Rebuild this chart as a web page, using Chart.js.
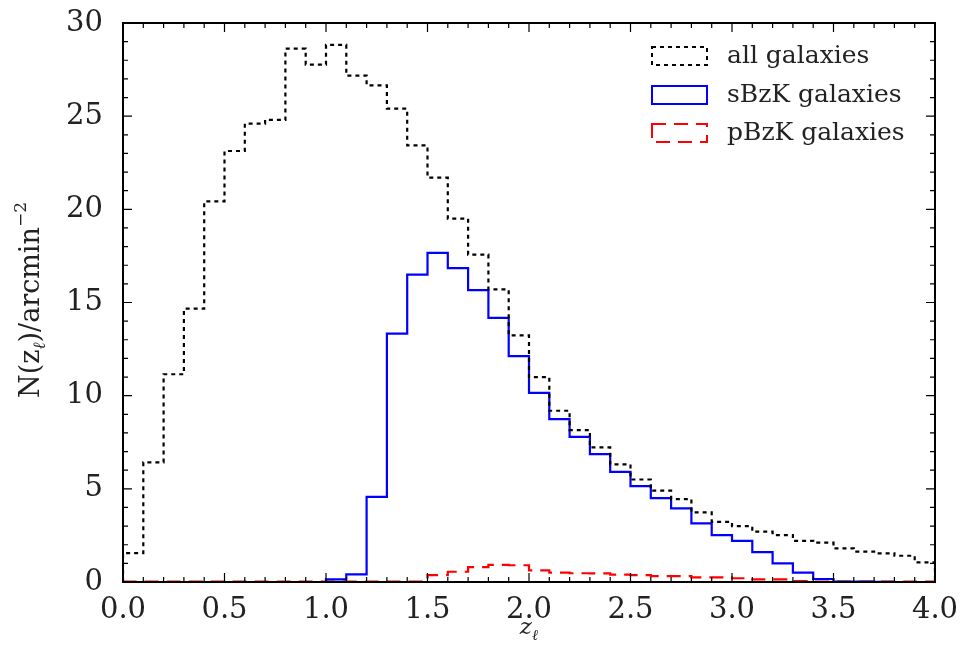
<!DOCTYPE html>
<html>
<head>
<meta charset="utf-8">
<script src="https://cdn.jsdelivr.net/npm/chart.js@4"></script>
<style>
  html, body { margin: 0; padding: 0; background: #fff; }
  #wrap { width: 961px; height: 655px; position: relative; }
</style>
</head>
<body>
<div id="wrap"><canvas id="histChart"></canvas></div>
<script>
// left edges of the 0.1-wide redshift bins
const binEdges = [0.0, 0.1, 0.2, 0.3, 0.4, 0.5, 0.6, 0.7, 0.8, 0.9,
  1.0, 1.1, 1.2, 1.3, 1.4, 1.5, 1.6, 1.7, 1.8, 1.9,
  2.0, 2.1, 2.2, 2.3, 2.4, 2.5, 2.6, 2.7, 2.8, 2.9,
  3.0, 3.1, 3.2, 3.3, 3.4, 3.5, 3.6, 3.7, 3.8, 3.9];
const lastEdge = 4.0;

const allGalaxies = [1.55, 6.42, 11.15, 14.67, 20.43, 23.13, 24.6, 24.8, 28.62, 27.77,
  28.83, 27.18, 26.65, 25.4, 23.43, 21.7, 19.5, 17.57, 15.7, 13.24,
  11.0, 9.19, 8.15, 7.22, 6.31, 5.5, 4.9, 4.45, 3.74, 3.23,
  3.0, 2.7, 2.52, 2.21, 2.11, 1.8, 1.63, 1.54, 1.41, 1.05];
const sBzK = [0, 0, 0, 0, 0, 0, 0, 0, 0, 0,
  0.14, 0.41, 4.57, 13.33, 16.5, 17.66, 16.85, 15.66, 14.17, 12.12,
  10.15, 8.74, 7.79, 6.86, 5.91, 5.15, 4.5, 3.95, 3.15, 2.52,
  2.21, 1.6, 1.0, 0.5, 0.16, 0.02, 0.02, 0.01, 0, 0];
const pBzK = [0.02, 0.02, 0.02, 0.02, 0.02, 0.02, 0.02, 0.02, 0.02, 0.02,
  0.02, 0.02, 0.02, 0.02, 0.02, 0.37, 0.55, 0.8, 0.92, 0.9,
  0.62, 0.5, 0.47, 0.46, 0.4, 0.37, 0.32, 0.32, 0.25, 0.25,
  0.2, 0.14, 0.14, 0.05, 0.02, 0.02, 0.02, 0.02, 0.02, 0.02];

const xTicks = [0, 0.5, 1.0, 1.5, 2.0, 2.5, 3.0, 3.5, 4.0];
const yTicks = [0, 5, 10, 15, 20, 25, 30];
const legendLabels = ['all galaxies', 'sBzK galaxies', 'pBzK galaxies'];

const FONT = '"DejaVu Serif", serif';

// step outline: start at baseline, one point per bin, drop back to baseline
function stepPoints(vals) {
  const pts = [{ x: binEdges[0], y: 0 }];
  vals.forEach((v, i) => pts.push({ x: binEdges[i], y: v }));
  pts.push({ x: lastEdge, y: 0 });
  return pts;
}

const datasets = [
  { label: legendLabels[0], data: stepPoints(allGalaxies), borderColor: '#000000', borderWidth: 2.2, borderDash: [4, 4] },
  { label: legendLabels[1], data: stepPoints(sBzK), borderColor: '#0000ff', borderWidth: 2.2, borderDash: [] },
  { label: legendLabels[2], data: stepPoints(pBzK), borderColor: '#ff0000', borderWidth: 2.2, borderDash: [14, 8] }
].map(d => Object.assign(d, { stepped: 'before', pointRadius: 0, fill: false, tension: 0, backgroundColor: 'transparent' }));

const framePlugin = {
  id: 'frame',
  afterDatasetsDraw(chart) {
    const { ctx, chartArea: a, scales: { x, y } } = chart;
    ctx.save();
    ctx.strokeStyle = '#000';
    ctx.lineWidth = 1.2;
    ctx.setLineDash([]);
    ctx.beginPath();
    // minor + major ticks, inward on all four sides
    for (let i = 0; i <= 40; i++) {
      const v = i / 10;
      const px = x.getPixelForValue(v);
      const len = (i % 5 === 0) ? 9 : 5;
      ctx.moveTo(px, a.bottom); ctx.lineTo(px, a.bottom - len);
      ctx.moveTo(px, a.top); ctx.lineTo(px, a.top + len);
    }
    for (let i = 0; i <= 30; i++) {
      const py = y.getPixelForValue(i);
      const len = (i % 5 === 0) ? 9 : 5;
      ctx.moveTo(a.left, py); ctx.lineTo(a.left + len, py);
      ctx.moveTo(a.right, py); ctx.lineTo(a.right - len, py);
    }
    ctx.stroke();
    ctx.lineWidth = 2;
    ctx.strokeRect(a.left, a.top, a.right - a.left, a.bottom - a.top);

    // legend, upper right inside the axes
    const boxX = a.right - 283, boxW = 55, boxH = 18;
    const rows = [56, 95, 133];
    ctx.font = '25px ' + FONT;
    ctx.textBaseline = 'middle';
    ctx.textAlign = 'left';
    chart.data.datasets.forEach((ds, i) => {
      ctx.strokeStyle = ds.borderColor;
      ctx.lineWidth = 2;
      ctx.setLineDash(ds.borderDash);
      ctx.strokeRect(boxX, rows[i] - boxH / 2, boxW, boxH);
      ctx.setLineDash([]);
      ctx.fillStyle = '#222';
      ctx.fillText(ds.label, boxX + 75, rows[i]);
    });

    // axis titles with sub/superscripts
    ctx.fillStyle = '#222';
    ctx.textBaseline = 'alphabetic';
    // x title: z_l
    const xc = (a.left + a.right) / 2;
    ctx.font = 'italic 23px ' + FONT;
    const zw = ctx.measureText('z').width;
    ctx.font = 'italic 15px ' + FONT;
    const lw = ctx.measureText('\u2113').width;
    const sx = xc - (zw + lw) / 2;
    ctx.font = 'italic 23px ' + FONT;
    ctx.fillText('z', sx, 634);
    ctx.font = 'italic 15px ' + FONT;
    ctx.fillText('\u2113', sx + zw, 640);

    // y title: N(z_l)/arcmin^-2, rotated
    ctx.translate(39, 300);
    ctx.rotate(-Math.PI / 2);
    const parts = [
      { t: 'N(z', f: '27px ' + FONT, dy: 0 },
      { t: '\u2113', f: 'italic 17px ' + FONT, dy: 6 },
      { t: ')/arcmin', f: '27px ' + FONT, dy: 0 },
      { t: '\u22122', f: '17px ' + FONT, dy: -13 }
    ];
    let total = 0;
    parts.forEach(p => { ctx.font = p.f; p.w = ctx.measureText(p.t).width; total += p.w; });
    let cx = -total / 2;
    parts.forEach(p => { ctx.font = p.f; ctx.fillText(p.t, cx, p.dy); cx += p.w; });
    ctx.restore();
  }
};

new Chart(document.getElementById('histChart'), {
  type: 'line',
  data: { datasets },
  options: {
    responsive: true,
    maintainAspectRatio: false,
    animation: false,
    layout: { padding: { top: 23, right: 26, left: 0, bottom: 0 } },
    plugins: { legend: { display: false }, tooltip: { enabled: false } },
    scales: {
      x: {
        type: 'linear', min: 0, max: 4,
        grid: { display: false },
        border: { display: false },
        afterBuildTicks: s => { s.ticks = xTicks.map(v => ({ value: v })); },
        afterFit: s => { s.height = 73; s.paddingLeft = 0; s.paddingRight = 0; },
        ticks: {
          font: { family: FONT, size: 29 }, color: '#222', padding: 3,
          maxRotation: 0, autoSkip: false,
          callback: v => Number(v).toFixed(1)
        }
      },
      y: {
        min: 0, max: 30,
        grid: { display: false },
        border: { display: false },
        afterBuildTicks: s => { s.ticks = yTicks.map(v => ({ value: v })); },
        afterFit: s => { s.width = 123; s.paddingTop = 0; s.paddingBottom = 0; },
        ticks: { font: { family: FONT, size: 29 }, color: '#222', padding: 12 }
      }
    }
  },
  plugins: [framePlugin]
});
</script>
</body>
</html>
